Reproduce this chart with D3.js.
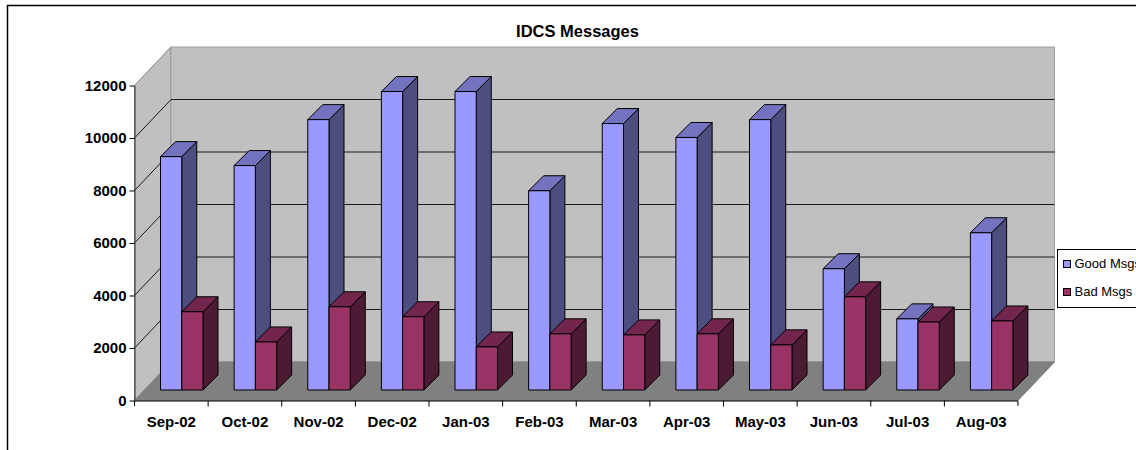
<!DOCTYPE html>
<html>
<head>
<meta charset="utf-8">
<script src="https://d3js.org/d3.v7.min.js"></script>
<style>
  html, body { margin: 0; padding: 0; background: #fff; overflow: hidden; }
  text { font-family: "Liberation Sans", Arial, sans-serif; fill: #000; }
  .tick text { font-size: 15px; font-weight: bold; }
</style>
</head>
<body>
<div id="chart"></div>
<script>
const months = ['Sep-02', 'Oct-02', 'Nov-02', 'Dec-02', 'Jan-03', 'Feb-03', 'Mar-03', 'Apr-03', 'May-03', 'Jun-03', 'Jul-03', 'Aug-03'];
const goodMsgs = [8890, 8550, 10300, 11370, 11370, 7590, 10150, 9620, 10300, 4620, 2710, 5990];
const badMsgs = [2980, 1830, 3170, 2790, 1640, 2140, 2100, 2140, 1720, 3550, 2590, 2630];
const yTicks = [0, 2000, 4000, 6000, 8000, 10000, 12000];
const seriesNames = ['Good Msgs', 'Bad Msgs'];

const width = 1136, height = 450;
const plotLeft = 134.5, plotRight = 1018, plotBottom = 400.5, plotTop = 85.5;
const depthX = 36.5, depthY = 38.5;   // offset of the back wall
const barDepth = 15;                  // depth of one column
const floorGap = 10.5;                // columns stand a little behind the front edge

const svg = d3.select('#chart').append('svg')
  .attr('width', width)
  .attr('height', height)
  .style('display', 'block');

const x = d3.scaleBand().domain(months).range([plotLeft, plotRight]);
const barX = d3.scaleBand().domain(seriesNames).range([26, 68.5]);
const y = d3.scaleLinear().domain([0, 12000]).range([plotBottom, plotTop]);

// Outer frame, runs off the right and bottom of the picture
svg.append('path')
  .attr('d', `M7.5,${height + 2} V5.5 H${width + 2}`)
  .attr('fill', 'none')
  .attr('stroke', '#000')
  .attr('stroke-width', 1.5);

svg.append('text')
  .attr('x', 577.5)
  .attr('y', 37)
  .attr('text-anchor', 'middle')
  .style('font-size', '16.5px')
  .style('font-weight', 'bold')
  .text('IDCS Messages');

const poly = pts => 'M' + pts.map(p => p.join(',')).join('L') + 'Z';

// Walls and floor
svg.append('path')
  .attr('d', poly([[plotLeft, plotBottom], [plotLeft, plotTop], [plotLeft + depthX, plotTop - depthY], [plotLeft + depthX, plotBottom - depthY]]))
  .attr('fill', '#c0c0c0').attr('stroke', '#808080');
svg.append('path')
  .attr('d', poly([[plotLeft + depthX, plotBottom - depthY], [plotLeft + depthX, plotTop - depthY], [plotRight + depthX, plotTop - depthY], [plotRight + depthX, plotBottom - depthY]]))
  .attr('fill', '#c0c0c0').attr('stroke', '#a0a0a0');
svg.append('path')
  .attr('d', poly([[plotLeft, plotBottom], [plotLeft + depthX, plotBottom - depthY], [plotRight + depthX, plotBottom - depthY], [plotRight, plotBottom]]))
  .attr('fill', '#808080').attr('stroke', '#808080');

// Gridlines: diagonal on the side wall, flat on the back wall
svg.append('g').selectAll('path')
  .data(yTicks.slice(1, -1))
  .join('path')
  .attr('d', d => `M${plotLeft},${y(d)} L${plotLeft + depthX},${y(d) - depthY} H${plotRight + depthX}`)
  .attr('fill', 'none')
  .attr('stroke', '#1a1a1a')
  .attr('stroke-width', 1);

// Columns
const colours = {
  'Good Msgs': { front: '#9999ff', top: '#7373bf', side: '#4d4d80' },
  'Bad Msgs': { front: '#993366', top: '#73264d', side: '#4d1a33' }
};
const bars = [];
months.forEach((m, i) => {
  bars.push({ month: m, series: 'Good Msgs', value: goodMsgs[i] });
  bars.push({ month: m, series: 'Bad Msgs', value: badMsgs[i] });
});

const barG = svg.append('g').selectAll('g')
  .data(bars)
  .join('g')
  .attr('stroke', '#000')
  .attr('stroke-width', 1)
  .attr('stroke-linejoin', 'round');

const geom = d => {
  const x0 = x(d.month) + barX(d.series);
  const x1 = x0 + barX.bandwidth();
  const y0 = y(0) - floorGap;
  const y1 = y(d.value) - floorGap;
  return { x0, x1, y0, y1 };
};

barG.append('path')
  .attr('fill', d => colours[d.series].side)
  .attr('d', d => {
    const g = geom(d);
    return poly([[g.x1, g.y0], [g.x1, g.y1], [g.x1 + barDepth, g.y1 - barDepth], [g.x1 + barDepth, g.y0 - barDepth]]);
  });
barG.append('path')
  .attr('fill', d => colours[d.series].top)
  .attr('d', d => {
    const g = geom(d);
    return poly([[g.x0, g.y1], [g.x0 + barDepth, g.y1 - barDepth], [g.x1 + barDepth, g.y1 - barDepth], [g.x1, g.y1]]);
  });
barG.append('rect')
  .attr('fill', d => colours[d.series].front)
  .attr('x', d => geom(d).x0)
  .attr('y', d => geom(d).y1)
  .attr('width', barX.bandwidth())
  .attr('height', d => geom(d).y0 - geom(d).y1);

// Axes
const yAxis = d3.axisLeft(y).tickValues(yTicks).tickFormat(d3.format('d')).tickSize(5).tickPadding(3).tickSizeOuter(0);
svg.append('g')
  .attr('transform', `translate(${plotLeft},0)`)
  .call(yAxis)
  .call(g => g.select('.domain').attr('stroke', '#333'));

const xAxis = d3.axisBottom(x).tickSize(0).tickPadding(16).tickSizeOuter(0);
const xG = svg.append('g')
  .attr('transform', `translate(0,${plotBottom})`)
  .call(xAxis);
xG.select('.domain').attr('d', `M${plotLeft},0.5 H${plotRight} V5.5 M${plotLeft},0.5 V5.5`).attr('stroke', '#000').attr('fill', 'none');
xG.selectAll('.sep')
  .data(months.slice(1))
  .join('line')
  .attr('class', 'sep')
  .attr('x1', d => x(d)).attr('x2', d => x(d))
  .attr('y1', 0).attr('y2', 6)
  .attr('stroke', '#000');

// Legend
const legend = svg.append('g').attr('transform', 'translate(1057.5,249.5)');
legend.append('rect')
  .attr('width', 90).attr('height', 58)
  .attr('fill', '#fff').attr('stroke', '#000');
legend.selectAll('.key')
  .data(seriesNames)
  .join('g')
  .attr('class', 'key')
  .attr('transform', (d, i) => `translate(6,${11 + i * 28})`)
  .call(g => g.append('rect')
    .attr('width', 7).attr('height', 7)
    .attr('fill', d => colours[d].front)
    .attr('stroke', '#000'))
  .call(g => g.append('text')
    .attr('x', 11).attr('y', 7.5)
    .style('font-size', '13px')
    .text(d => d));
</script>
</body>
</html>
